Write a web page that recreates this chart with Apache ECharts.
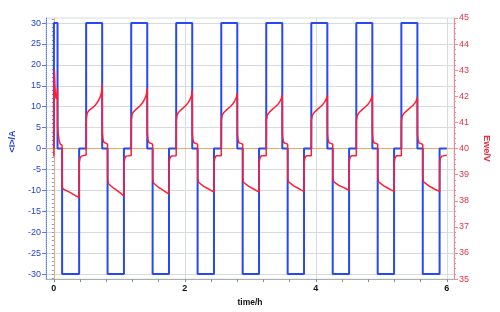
<!DOCTYPE html>
<html><head><meta charset="utf-8">
<script src="https://cdn.jsdelivr.net/npm/echarts@6/dist/echarts.min.js"></script>
<style>html,body{margin:0;padding:0;background:#fff}#c{width:500px;height:312px}</style>
</head><body><div id="c"></div>
<script>
// ---- tick labels / tick positions ----
const xLabelValues = [0, 2, 4, 6];
const xTickValues = [0, 0.4, 0.8, 1.2, 1.6, 2, 2.4, 2.8, 3.2, 3.6, 4, 4.4, 4.8, 5.2, 5.6, 6];
const xGridValues = [2, 4, 6];
const leftLabelValues = [-30, -25, -20, -15, -10, -5, 0, 5, 10, 15, 20, 25, 30];
const leftMinorTickValues = [-31,-30,-29,-28,-27,-26,-25,-24,-23,-22,-21,-20,-19,-18,-17,-16,-15,-14,-13,-12,-11,-10,-9,-8,-7,-6,-5,-4,-3,-2,-1,0,1,2,3,4,5,6,7,8,9,10,11,12,13,14,15,16,17,18,19,20,21,22,23,24,25,26,27,28,29,30,31];

// ---- current <I>/A (value holds from each time until the next) ----
const currentTimes = [0, 0, 0.056, 0.126, 0.386,
  0.493, 0.738, 0.820, 1.070,
  1.181, 1.426, 1.508, 1.758,
  1.868, 2.113, 2.195, 2.445,
  2.556, 2.801, 2.883, 3.133,
  3.243, 3.488, 3.570, 3.820,
  3.931, 4.176, 4.258, 4.508,
  4.618, 4.863, 4.945, 5.195,
  5.306, 5.551, 5.633, 5.890,
  6.0];
const currentValues = [0, 30, 0, -30, 0,
  30, 0, -30, 0,
  30, 0, -30, 0,
  30, 0, -30, 0,
  30, 0, -30, 0,
  30, 0, -30, 0,
  30, 0, -30, 0,
  30, 0, -30, 0,
  30, 0, -30, 0,
  0];

// ---- potential Ewe/V ----
const voltageStart = [[0,39.70],[0.003,42.3],[0.008,43.0],[0.014,42.6],[0.022,42.1],[0.035,41.9],[0.048,42.1],[0.055,42.3],
  [0.057,40.85],[0.066,40.55],[0.078,40.35],[0.095,40.18],[0.126,40.12],[0.128,38.55],[0.140,38.45],[0.200,38.38],
  [0.260,38.30],[0.330,38.20],[0.385,38.12],[0.387,39.45],[0.398,39.62],[0.420,39.71]];
const voltageCycle1 = [[0.493,39.75],[0.495,41.15],[0.508,41.35],[0.533,41.45],[0.583,41.55],[0.633,41.66],[0.673,41.80],[0.698,41.92],[0.718,42.05],[0.730,42.20],[0.738,42.45],
  [0.740,40.60],[0.749,40.38],[0.763,40.24],[0.820,40.17],[0.822,38.85],[0.833,38.65],[0.853,38.58],[0.913,38.48],[0.973,38.38],[1.023,38.28],[1.070,38.18],
  [1.072,39.45],[1.083,39.62],[1.103,39.71]];
const voltageCycle2 = [[1.181,39.73],[1.183,41.12],[1.196,41.32],[1.221,41.42],[1.271,41.54],[1.321,41.65],[1.361,41.78],[1.386,41.89],[1.406,42.01],[1.418,42.14],[1.426,42.32],
  [1.428,40.58],[1.437,40.36],[1.451,40.23],[1.508,40.17],[1.510,38.87],[1.521,38.68],[1.541,38.61],[1.601,38.51],[1.661,38.42],[1.711,38.33],[1.758,38.25],
  [1.760,39.45],[1.771,39.62],[1.791,39.71]];
const voltageCycle3 = [[1.868,39.72],[1.870,41.10],[1.883,41.30],[1.908,41.40],[1.958,41.52],[2.008,41.63],[2.048,41.75],[2.073,41.85],[2.093,41.96],[2.105,42.07],[2.113,42.22],
  [2.115,40.56],[2.124,40.35],[2.138,40.22],[2.195,40.17],[2.197,38.88],[2.208,38.71],[2.228,38.64],[2.288,38.55],[2.348,38.47],[2.398,38.40],[2.445,38.33],
  [2.447,39.47],[2.458,39.63],[2.478,39.72]];
const voltageCycle4 = [[2.556,39.72],[2.558,41.08],[2.571,41.28],[2.596,41.38],[2.646,41.50],[2.696,41.61],[2.736,41.72],[2.761,41.82],[2.781,41.92],[2.793,42.02],[2.801,42.12],
  [2.803,40.55],[2.812,40.35],[2.826,40.22],[2.883,40.17],[2.885,38.88],[2.896,38.71],[2.916,38.64],[2.976,38.55],[3.036,38.47],[3.086,38.40],[3.133,38.33],
  [3.135,39.47],[3.146,39.63],[3.166,39.72]];
const voltageCycle5 = [[3.243,39.72],[3.245,41.08],[3.258,41.27],[3.283,41.37],[3.333,41.49],[3.383,41.60],[3.423,41.70],[3.448,41.79],[3.468,41.88],[3.480,41.97],[3.488,42.06],
  [3.490,40.55],[3.499,40.35],[3.513,40.22],[3.570,40.17],[3.572,38.89],[3.583,38.72],[3.603,38.65],[3.663,38.57],[3.723,38.49],[3.773,38.42],[3.820,38.36],
  [3.822,39.47],[3.833,39.63],[3.853,39.72]];
const voltageCycle6 = [[3.931,39.72],[3.933,41.08],[3.946,41.27],[3.971,41.37],[4.021,41.49],[4.071,41.60],[4.111,41.70],[4.136,41.79],[4.156,41.88],[4.168,41.96],[4.176,42.05],
  [4.178,40.55],[4.187,40.35],[4.201,40.22],[4.258,40.17],[4.260,38.90],[4.271,38.73],[4.291,38.66],[4.351,38.59],[4.411,38.52],[4.461,38.46],[4.508,38.40],
  [4.510,39.48],[4.521,39.64],[4.541,39.72]];
const voltageCycle7 = [[4.618,39.72],[4.620,41.08],[4.633,41.27],[4.658,41.37],[4.708,41.49],[4.758,41.60],[4.798,41.70],[4.823,41.79],[4.843,41.88],[4.855,41.97],[4.863,42.06],
  [4.865,40.55],[4.874,40.35],[4.888,40.22],[4.945,40.17],[4.947,38.89],[4.958,38.72],[4.978,38.65],[5.038,38.57],[5.098,38.49],[5.148,38.42],[5.195,38.36],
  [5.197,39.47],[5.208,39.63],[5.228,39.72]];
const voltageCycle8 = [[5.306,39.72],[5.308,41.06],[5.321,41.25],[5.346,41.35],[5.396,41.46],[5.446,41.57],[5.486,41.66],[5.511,41.74],[5.531,41.82],[5.543,41.89],[5.551,41.97],
  [5.553,40.53],[5.562,40.34],[5.576,40.21],[5.633,40.16],[5.635,38.89],[5.646,38.72],[5.666,38.65],[5.726,38.57],[5.786,38.49],[5.836,38.42],[5.890,38.36],
  [5.892,39.47],[5.903,39.63],[5.923,39.71],[6.0,39.74]];

const currentData = currentTimes.map((t, i) => [t, currentValues[i]]);
const voltageData = [].concat(voltageStart, voltageCycle1, voltageCycle2, voltageCycle3, voltageCycle4,
  voltageCycle5, voltageCycle6, voltageCycle7, voltageCycle8);

const FONT = '"Liberation Sans", Arial, sans-serif';
const BLUE_TXT = '#2440d8';
const RED_TXT = '#e8304a';
const GRIDC = '#d6dcdc';

const chart = echarts.init(document.getElementById('c'), null, {renderer: 'canvas'});
chart.setOption({
  animation: false,
  backgroundColor: '#ffffff',
  grid: {left: 46, right: 46, top: 18, bottom: 29, show: true, borderColor: GRIDC, borderWidth: 1, backgroundColor: 'transparent'},
  xAxis: [{
    type: 'value', min: -0.12, max: 6.11,
    name: 'time/h', nameLocation: 'middle', nameGap: 16,
    nameTextStyle: {color: '#111', fontSize: 8.5, fontWeight: 'bold', fontFamily: FONT},
    axisLine: {show: true, onZero: false, lineStyle: {color: '#a8b0b0', width: 1}},
    axisTick: {show: true, length: 3, customValues: xTickValues, lineStyle: {color: '#8a9090'}},
    axisLabel: {show: true, customValues: xLabelValues, margin: 5, color: '#111', fontSize: 9, fontWeight: 'bold', fontFamily: FONT},
    splitLine: {show: false}
  }, {
    type: 'value', min: -0.12, max: 6.11, position: 'top',
    axisLine: {show: false}, axisLabel: {show: false},
    axisTick: {show: false, customValues: xGridValues},
    splitLine: {show: true, lineStyle: {color: GRIDC, width: 1}}
  }],
  yAxis: [{
    type: 'value', min: -31.2, max: 31.2, position: 'left',
    name: '<I>/A', nameLocation: 'middle', nameRotate: 90, nameGap: 29,
    nameTextStyle: {color: BLUE_TXT, fontSize: 9, fontWeight: 'bold', fontFamily: FONT, padding: [0, 0, 0, 14]},
    axisLine: {show: true, onZero: false, lineStyle: {color: '#5a78f0', width: 1, type: 'dotted'}},
    axisTick: {show: true, length: 4, customValues: leftLabelValues, lineStyle: {color: '#5a78f0'}},
    axisLabel: {show: true, customValues: leftLabelValues, margin: 5, color: BLUE_TXT, fontSize: 9, fontFamily: FONT},
    splitLine: {show: true, lineStyle: {color: GRIDC, width: 1}}
  }, {
    type: 'value', min: 35, max: 45, interval: 1, position: 'right',
    name: 'Ewe/V', nameLocation: 'middle', nameRotate: -90, nameGap: 28,
    nameTextStyle: {color: RED_TXT, fontSize: 9, fontWeight: 'bold', fontFamily: FONT},
    axisLine: {show: true, onZero: false, lineStyle: {color: '#f28898', width: 1}},
    axisTick: {show: true, length: 4, lineStyle: {color: '#f28898'}},
    minorTick: {show: true, splitNumber: 5, length: 2, lineStyle: {color: '#f28898'}},
    axisLabel: {show: true, margin: 5, color: RED_TXT, fontSize: 9, fontFamily: FONT},
    splitLine: {show: false}
  }, {
    type: 'value', min: -31.2, max: 31.2, position: 'left',
    axisLine: {show: false}, axisLabel: {show: false}, splitLine: {show: false},
    axisTick: {show: true, length: 2, customValues: leftMinorTickValues, lineStyle: {color: '#7a90f0'}}
  }],
  series: [{
    type: 'line', xAxisIndex: 0, yAxisIndex: 0, data: [], silent: true, symbol: 'none', z: 1,
    markLine: {
      silent: true, symbol: 'none', label: {show: false}, z: 1,
      lineStyle: {color: '#f4a868', width: 1, type: 'solid'},
      data: [{xAxis: 0}, {yAxis: 0}]
    }
  }, {
    name: 'I', type: 'line', xAxisIndex: 0, yAxisIndex: 0, data: currentData, z: 3,
    step: 'end', symbol: 'none', lineStyle: {color: '#2848f4', width: 2}
  }, {
    name: 'Ewe', type: 'line', xAxisIndex: 0, yAxisIndex: 1, data: voltageData, z: 4,
    symbol: 'none', lineStyle: {color: '#ff1f30', width: 1.5}
  }]
});
</script>
</body></html>
